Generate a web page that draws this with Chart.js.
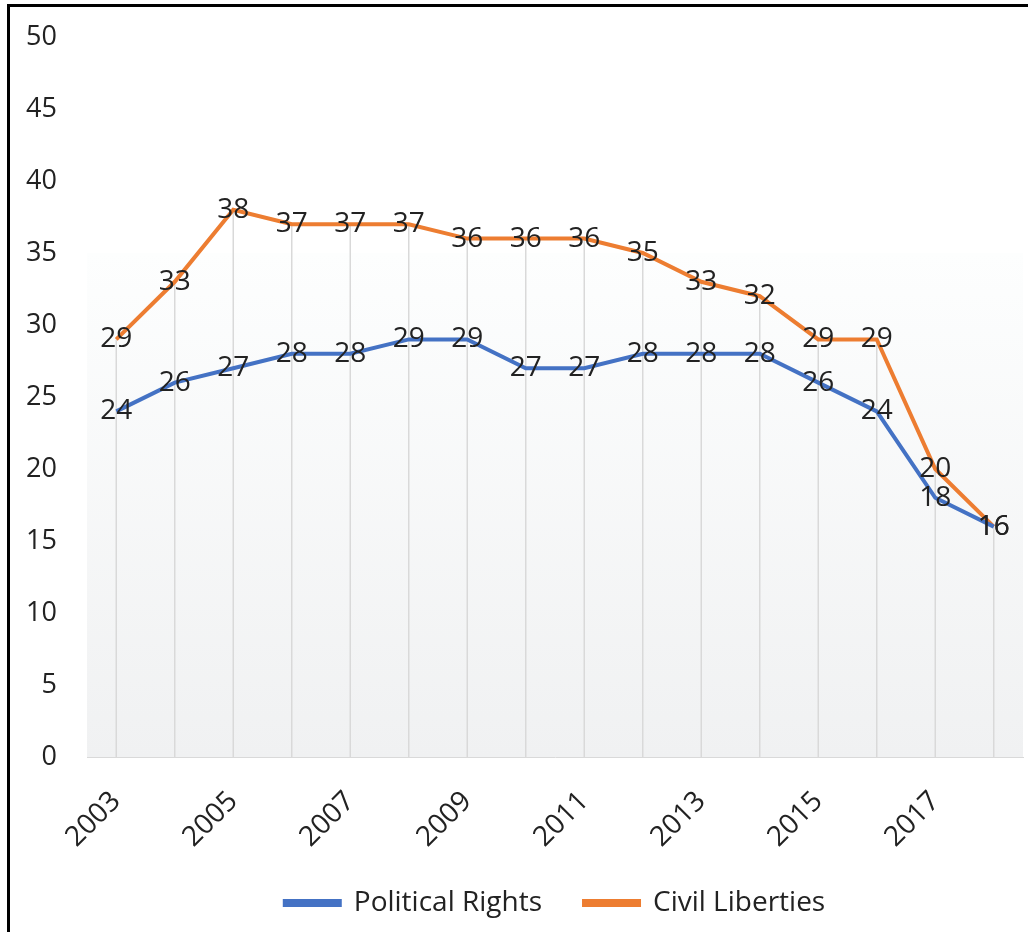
<!DOCTYPE html>
<html>
<head>
<meta charset="utf-8">
<script src="https://cdn.jsdelivr.net/npm/chart.js@4"></script>
<style>
  html, body { margin: 0; padding: 0; background: #fff; }
  #wrap { position: relative; width: 1028px; height: 932px; overflow: hidden; }
  #frame { position: absolute; left: 7px; top: 4px; width: 1040px; height: 950px;
           border-left: 3px solid #000; border-top: 3px solid #000; pointer-events: none; }
</style>
</head>
<body>
<div id="wrap">
  <canvas id="chart" width="1028" height="932"></canvas>
  <div id="frame"></div>
</div>
<script>
// data
var years = ['2003', '2004', '2005', '2006', '2007', '2008', '2009', '2010',
             '2011', '2012', '2013', '2014', '2015', '2016', '2017', '2018'];
var politicalRights = [24, 26, 27, 28, 28, 29, 29, 27, 27, 28, 28, 28, 26, 24, 18, 16];
var civilLiberties  = [29, 33, 38, 37, 37, 37, 36, 36, 36, 35, 33, 32, 29, 29, 20, 16];
var yTicks = [0, 5, 10, 15, 20, 25, 30, 35, 40, 45, 50];

var FONT = "'Open Sans', sans-serif";
var TEXT = '#222222';

// soft gradient behind the plot area
var plotBackground = {
  id: 'plotBackground',
  beforeDraw: function(chart) {
    var a = chart.chartArea, ctx = chart.ctx;
    var start = a.top + (a.bottom - a.top) * 0.3;
    var g = ctx.createLinearGradient(0, start, 0, a.bottom);
    g.addColorStop(0, '#fdfefe');
    g.addColorStop(1, '#f0f1f2');
    ctx.save();
    ctx.fillStyle = g;
    ctx.fillRect(a.left, start, a.right - a.left, a.bottom - start);
    ctx.restore();
  }
};

// excel style drop lines from the highest point down to the axis
var dropLines = {
  id: 'dropLines',
  beforeDatasetsDraw: function(chart) {
    var ctx = chart.ctx, bottom = chart.chartArea.bottom;
    var metas = chart.getSortedVisibleDatasetMetas();
    ctx.save();
    ctx.strokeStyle = '#d9d9d9';
    ctx.lineWidth = 1.5;
    for (var i = 0; i < years.length; i++) {
      var top = bottom, x = 0;
      metas.forEach(function(m) {
        var p = m.data[i];
        if (p) { x = p.x; if (p.y < top) top = p.y; }
      });
      ctx.beginPath();
      ctx.moveTo(x, top);
      ctx.lineTo(x, bottom);
      ctx.stroke();
    }
    ctx.restore();
  }
};

// value labels centred on each point
var pointLabels = {
  id: 'pointLabels',
  afterDatasetsDraw: function(chart) {
    var ctx = chart.ctx;
    ctx.save();
    ctx.font = '28px ' + FONT;
    ctx.fillStyle = TEXT;
    ctx.textAlign = 'center';
    ctx.textBaseline = 'middle';
    chart.data.datasets.forEach(function(ds, di) {
      chart.getDatasetMeta(di).data.forEach(function(p, i) {
        ctx.fillText(String(ds.data[i]), p.x, p.y);
      });
    });
    ctx.restore();
  }
};

// legend: fixed height box, centred under the plot
var legendFit = {
  id: 'legendFit',
  beforeLayout: function(chart) {
    var lg = chart.legend;
    if (lg && !lg._fitWrapped) {
      var fit = lg.fit;
      lg.fit = function() { fit.call(this); this.height = 85; };
      lg._fitWrapped = true;
    }
  },
  afterLayout: function(chart) {
    var lg = chart.legend;
    var dx = (chart.chartArea.left + chart.chartArea.right) / 2 - (lg.left + lg.right) / 2;
    lg.left += dx; lg.right += dx;
  }
};

new Chart(document.getElementById('chart'), {
  type: 'line',
  data: {
    labels: years,
    datasets: [{
      label: 'Political Rights',
      data: politicalRights,
      borderColor: '#4472C4',
      backgroundColor: '#4472C4',
      borderWidth: 4,
      pointRadius: 0,
      tension: 0
    }, {
      label: 'Civil Liberties',
      data: civilLiberties,
      borderColor: '#ED7D31',
      backgroundColor: '#ED7D31',
      borderWidth: 4,
      pointRadius: 0,
      tension: 0
    }]
  },
  options: {
    responsive: false,
    animation: false,
    layout: { padding: { top: 37, right: 5, bottom: 0, left: 0 } },
    plugins: {
      tooltip: { enabled: false },
      legend: {
        position: 'bottom',
        labels: {
          font: { family: FONT, size: 28 },
          color: TEXT,
          boxWidth: 55,
          boxHeight: 4,
          padding: 42
        }
      }
    },
    scales: {
      x: {
        type: 'category',
        offset: true,
        grid: { display: false, drawTicks: false },
        border: { display: true, color: '#d9d9d9', width: 1 },
        afterFit: function(scale) { scale.height = 90; scale.paddingRight = 0; },
        ticks: {
          autoSkip: false,
          minRotation: 45,
          maxRotation: 45,
          padding: 28,
          color: TEXT,
          font: { family: FONT, size: 28 },
          callback: function(v, i) { return i % 2 === 0 ? years[i] : ''; }
        }
      },
      y: {
        min: 0,
        max: 50,
        afterFit: function(scale) { scale.width = 87; scale.paddingTop = 0; scale.paddingBottom = 0; },
        afterBuildTicks: function(scale) {
          scale.ticks = yTicks.map(function(v) { return { value: v }; });
        },
        grid: { display: false, drawTicks: false },
        border: { display: false },
        ticks: {
          padding: 30,
          color: TEXT,
          font: { family: FONT, size: 27 }
        }
      }
    }
  },
  plugins: [plotBackground, dropLines, pointLabels, legendFit]
});
</script>
</body>
</html>
